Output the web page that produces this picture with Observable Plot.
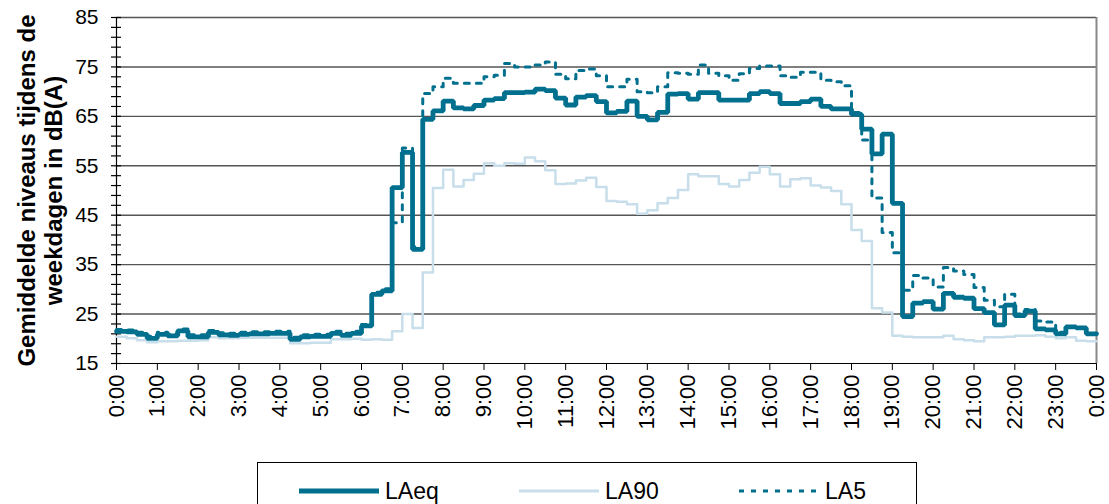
<!DOCTYPE html>
<html><head><meta charset="utf-8">
<script src="https://cdn.jsdelivr.net/npm/d3@7"></script>
<script src="https://cdn.jsdelivr.net/npm/@observablehq/plot@0.6"></script>
<style>
html,body{margin:0;padding:0;background:#fff;}
body{width:1109px;height:504px;overflow:hidden;font-family:"Liberation Sans",Arial,sans-serif;color:#000;}
#legend{position:relative;margin-left:257px;margin-top:12px;width:660px;height:60px;border:1px solid #000;box-sizing:border-box;}
.item{position:absolute;top:0;height:56px;display:flex;align-items:center;font-size:23px;}
.item svg{margin-right:6px;}
</style>
</head><body>
<div id="chart"></div>
<div id="legend"></div>
<script>
// 15-minute averages, weekdays, dB(A)
const hourLabels = ["0:00","1:00","2:00","3:00","4:00","5:00","6:00","7:00","8:00","9:00","10:00","11:00","12:00","13:00","14:00","15:00","16:00","17:00","18:00","19:00","20:00","21:00","22:00","23:00","0:00"];
const seriesNames = ["LAeq","LA90","LA5"];

const LAeq = [
21.5,21.4,20.9,20.1, 20.9,20.6,21.6,20.4, 20.4,21.3,20.8,20.7, 20.9,21.0,21.0,21.1,
21.1,19.9,20.4,20.5, 20.5,21.1,20.7,21.1, 22.6,29.0,29.7,50.6, 57.7,38.1,64.4,66.1,
68.1,66.7,66.5,67.2, 68.3,68.6,69.8,69.8, 69.9,70.5,70.2,68.7, 67.3,68.9,69.2,68.0,
65.7,66.0,68.1,65.0, 64.3,65.8,69.5,69.6, 68.5,69.8,69.8,68.3, 68.3,68.3,69.6,70.0,
69.6,67.6,67.6,68.0, 68.5,67.0,66.5,66.5, 65.4,62.4,57.4,61.4, 47.4,24.5,27.2,27.5,
26.0,29.2,28.4,28.2, 26.1,25.3,22.8,26.8, 24.7,25.6,22.0,21.8, 21.0,22.4,22.2,21.0
];
const LA90 = [
20.4,20.1,19.7,19.3, 19.5,19.5,19.6,19.6, 19.7,20.3,20.1,20.1, 20.2,20.2,20.2,20.2,
20.2,19.1,19.1,19.2, 19.2,19.9,19.9,20.0, 19.8,19.9,19.8,21.5, 25.0,22.2,33.4,50.5,
54.2,50.8,52.1,53.4, 55.5,55.0,55.5,55.4, 56.7,55.9,54.1,51.3, 51.4,52.0,52.6,50.7,
47.9,47.7,47.2,45.3, 46.0,47.4,48.5,50.1, 53.3,52.9,52.9,51.3, 50.8,52.1,53.6,54.8,
53.3,50.8,52.3,52.5, 51.0,50.6,49.9,47.2, 42.0,39.8,26.2,25.3, 20.6,20.4,20.3,20.3,
20.3,20.6,19.9,19.7, 19.5,20.3,20.3,20.4, 20.6,20.6,20.7,20.4, 20.1,20.3,19.6,19.5
];
const LA5 = [
21.9,21.8,21.3,20.5, 21.3,21.0,22.0,20.8, 20.8,21.7,21.2,21.1, 21.3,21.4,21.4,21.5,
21.5,20.3,20.8,20.9, 20.9,21.5,21.1,21.5, 22.9,29.4,30.1,43.5, 58.6,38.6,69.6,71.0,
72.7,71.7,71.7,71.7, 73.0,73.3,75.7,75.0, 75.0,75.4,76.0,73.5, 72.6,74.3,74.6,73.2,
71.0,71.0,72.5,70.0, 69.8,71.0,73.8,73.7, 73.5,75.4,73.7,73.2, 72.3,73.6,74.7,75.2,
75.2,73.2,72.9,73.9, 73.9,72.3,72.0,71.2, 65.8,60.2,48.5,41.5, 37.4,29.8,32.8,32.3,
30.5,34.4,33.7,33.0, 30.4,27.8,26.5,29.0, 25.0,25.9,23.6,23.4, 21.3,22.5,22.2,21.1
];

const yMajor = [15,25,35,45,55,65,75,85];
const yGrid = [25,35,45,55,65,75,85];
const yMinor = d3.range(15, 86, 2);
const hourTicks = d3.range(0, 25);

const teal = "#00708E";
const light = "#C8DEEA";

function toRows(arr) {
  const rows = arr.map((v, i) => ({t: i / 4, v}));
  rows.push({t: 24, v: arr[arr.length - 1]});
  return rows;
}

const chart = Plot.plot({
  width: 1109,
  height: 450,
  marginLeft: 116,
  marginRight: 13,
  marginTop: 17,
  marginBottom: 87,
  style: {fontFamily: "'Liberation Sans', Arial, sans-serif", background: "#fff", color: "#000", overflow: "visible"},
  x: {domain: [0, 24]},
  y: {domain: [15, 85]},
  marks: [
    Plot.ruleY(yGrid, {stroke: "#555", strokeWidth: 1.4}),
    Plot.axisY({ticks: yMajor, tickSize: 0, tickPadding: 18, fontSize: 21, label: null, tickFormat: d => String(d)}),
    Plot.tickY(yMinor, {y: d => d, insetRight: 970, dx: -5, stroke: "#000", strokeWidth: 1.2}),
    Plot.axisX({ticks: hourTicks, tickFormat: d => hourLabels[d], tickRotate: -90, tickSize: 7, tickPadding: 4, fontSize: 22, label: null}),
    Plot.ruleX([24], {stroke: "#888", strokeWidth: 2}),
    Plot.ruleY([15], {stroke: "#000", strokeWidth: 1.2}),
    Plot.ruleX([0], {stroke: "#000", strokeWidth: 1.2}),
    Plot.line(toRows(LA90), {x: "t", y: "v", curve: "step-after", stroke: light, strokeWidth: 2.5}),
    Plot.line(toRows(LA5), {x: "t", y: "v", curve: "step-after", stroke: teal, strokeWidth: 3, strokeDasharray: "5,7"}),
    Plot.line(toRows(LAeq), {x: "t", y: "v", curve: "step-after", stroke: teal, strokeWidth: 4.8, strokeLinejoin: "miter"}),
    Plot.text(["Gemiddelde niveaus tijdens de\nweekdagen in dB(A)"], {frameAnchor: "left", textAnchor: "middle", rotate: -90, dx: -77, fontWeight: "bold", fontSize: 24, lineHeight: 1.12, fill: "#000"})
  ]
});
document.getElementById("chart").appendChild(chart);

// legend
const legendStyles = [
  {name: seriesNames[0], left: 41, stroke: teal, width: 5, dash: null},
  {name: seriesNames[1], left: 261, stroke: light, width: 3, dash: null},
  {name: seriesNames[2], left: 481, stroke: teal, width: 3, dash: "5,7"}
];
const legend = document.getElementById("legend");
for (const s of legendStyles) {
  const div = document.createElement("div");
  div.className = "item";
  div.style.left = s.left + "px";
  div.innerHTML = `<svg width="80" height="10"><line x1="0" y1="5" x2="80" y2="5" stroke="${s.stroke}" stroke-width="${s.width}" ${s.dash ? `stroke-dasharray="${s.dash}"` : ""}/></svg><span>${s.name}</span>`;
  legend.appendChild(div);
}
</script>
</body></html>
